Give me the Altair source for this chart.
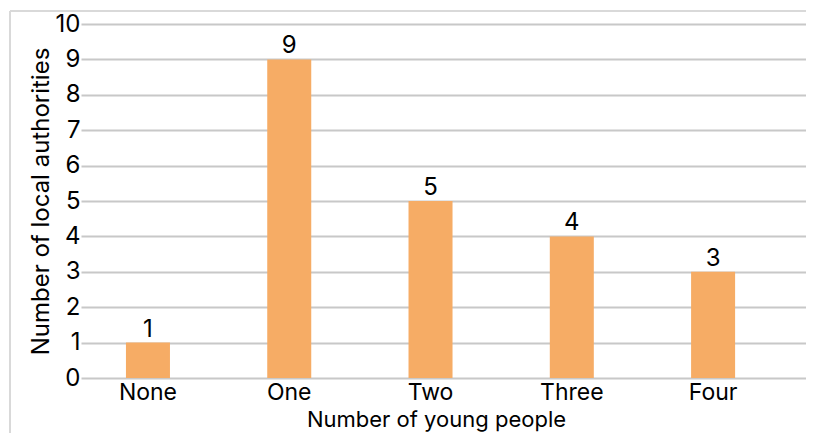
import altair as alt
import pandas as pd

categories = ["None", "One", "Two", "Three", "Four"]
counts = [1, 9, 5, 4, 3]
y_ticks = [0, 1, 2, 3, 4, 5, 6, 7, 8, 9, 10]

df = pd.DataFrame({"cat": categories, "n": counts})

FONT = "Inter"
BAR = "#F6AC65"
GRID = "#C8C8C8"
FRAME = "#D9D9D9"

x = alt.X(
    "cat:N",
    sort=categories,
    scale=alt.Scale(paddingInner=0.6885, paddingOuter=0.41, align=0.388),
    axis=alt.Axis(
        title="Number of young people",
        labelAngle=0,
        ticks=False,
        domain=False,
        grid=False,
        labelPadding=3,
        labelFontSize=23,
        titlePadding=5,
        titleFontSize=22,
        titleX=355,
    ),
)
y = alt.Y(
    "n:Q",
    scale=alt.Scale(domain=[0, 10], nice=False),
    axis=alt.Axis(
        title="Number of local authorities",
        values=y_ticks,
        ticks=False,
        domain=False,
        grid=True,
        labelPadding=1,
        titlePadding=2,
        titleFontSize=24,
    ),
)

bars = alt.Chart(df).mark_bar(color=BAR).encode(x=x, y=y)
labels = alt.Chart(df).mark_text(
    fontSize=24, font=FONT, color="#000000", baseline="alphabetic", dy=-6
).encode(x=x, y=y, text="n:Q")

frame_left = alt.Chart(df).mark_rule(color=FRAME, strokeWidth=2).encode(
    x=alt.value(-71), y=alt.value(-13), y2=alt.value(600)
)
frame_top = alt.Chart(df).mark_rule(color=FRAME, strokeWidth=2).encode(
    x=alt.value(-71), x2=alt.value(900), y=alt.value(-13)
)

chart = (
    alt.layer(bars, labels, frame_left, frame_top)
    .properties(
        width=725,
        height=354,
        autosize=alt.AutoSizeParams(type="none"),
        padding={"left": 73, "top": 16, "right": 0, "bottom": 55},
    )
    .configure(font=FONT, background="white")
    .configure_view(stroke=None)
    .configure_axis(
        labelFont=FONT,
        labelFontSize=24,
        labelColor="#000000",
        titleFont=FONT,
        titleFontWeight="normal",
        titleColor="#000000",
        gridColor=GRID,
        gridWidth=2,
    )
)

chart.save("out.html", embed_options={"renderer": "svg", "actions": False})
